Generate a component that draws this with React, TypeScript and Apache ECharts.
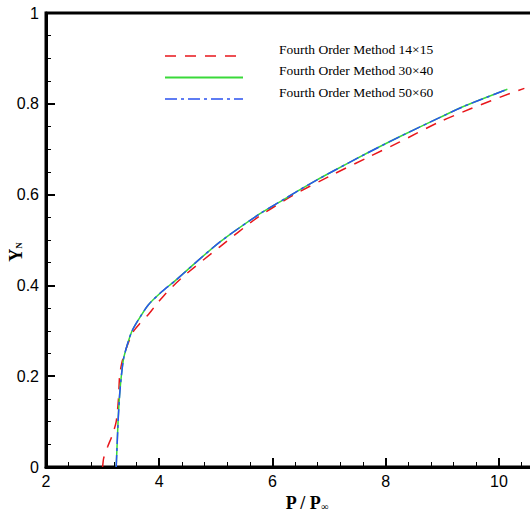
import React, { useEffect, useRef } from "react";
import * as echarts from "echarts";

// P / P_inf values and Y_N values
const red14x15P = [3.0, 3.02, 3.09, 3.17, 3.24, 3.28, 3.3, 3.34, 3.4, 3.53, 3.65, 3.8, 3.93, 4.1, 4.4, 5.07, 5.72, 6.37, 7.08, 7.67, 8.25, 8.93, 9.5, 10.2, 10.45];
const red14x15Y = [0, 0.02, 0.045, 0.07, 0.1, 0.15, 0.2, 0.23, 0.255, 0.296, 0.315, 0.335, 0.355, 0.38, 0.417, 0.485, 0.548, 0.599, 0.645, 0.681, 0.716, 0.759, 0.789, 0.823, 0.834];

const green30x40P = [3.24, 3.26, 3.277, 3.307, 3.366, 3.426, 3.514, 3.631, 3.807, 4.044, 4.279, 4.633, 5.074, 5.78, 6.25, 6.488, 6.78, 7.076, 7.666, 8.254, 8.961, 9.373, 10.15];
const green30x40Y = [0, 0.06, 0.111, 0.17, 0.236, 0.265, 0.298, 0.324, 0.357, 0.386, 0.41, 0.449, 0.496, 0.558, 0.593, 0.611, 0.632, 0.652, 0.691, 0.728, 0.77, 0.794, 0.832];

const blue50x60P = [3.24, 3.26, 3.278, 3.308, 3.366, 3.425, 3.514, 3.63, 3.806, 4.044, 4.28, 4.633, 5.074, 5.78, 6.25, 6.488, 6.78, 7.076, 7.666, 8.254, 8.961, 9.373, 10.15];
const blue50x60Y = [0, 0.06, 0.111, 0.17, 0.236, 0.265, 0.298, 0.324, 0.357, 0.386, 0.41, 0.449, 0.496, 0.558, 0.593, 0.611, 0.632, 0.652, 0.691, 0.728, 0.77, 0.794, 0.832];

const seriesNames = [
  "Fourth Order Method 14×15",
  "Fourth Order Method 30×40",
  "Fourth Order Method 50×60",
];
const seriesColors = ["#e8161b", "#3ad93a", "#2a52f0"];
const seriesDash: any[] = [[11, 9], "solid", [12, 4, 3, 4]];

const xTicks = [2, 4, 6, 8, 10];
const yTicks = [0, 0.2, 0.4, 0.6, 0.8, 1];

function zip(a: number[], b: number[]) {
  return a.map((v, i) => [v, b[i]]);
}

export default function App() {
  const ref = useRef<HTMLDivElement>(null);
  useEffect(() => {
    if (!ref.current) return;
    const chart = echarts.init(ref.current, null, { renderer: "svg" });
    const pairs = [
      zip(red14x15P, red14x15Y),
      zip(green30x40P, green30x40Y),
      zip(blue50x60P, blue50x60Y),
    ];
    const legendX0 = 165;
    const legendX1 = 243;
    const legendY = [56, 77.5, 99];
    const graphic: any[] = [];
    seriesNames.forEach((n, i) => {
      graphic.push({
        type: "line",
        shape: { x1: legendX0, y1: legendY[i], x2: legendX1, y2: legendY[i] },
        style: {
          stroke: seriesColors[i],
          lineWidth: i === 1 ? 2 : 1.5,
          lineDash: seriesDash[i] === "solid" ? null : seriesDash[i],
        },
      });
      graphic.push({
        type: "text",
        x: 279,
        y: legendY[i] - 7,
        style: {
          text: n,
          fill: "#000",
          font: '13.5px "Liberation Serif"',
          verticalAlign: "middle",
          align: "left",
        },
      });
    });
    graphic.push({
      type: "text",
      x: 16,
      y: 252,
      rotation: Math.PI / 2,
      style: {
        text: "{b|Y}{s|N}",
        align: "center",
        verticalAlign: "middle",
        rich: {
          b: { fontFamily: "Liberation Serif", fontWeight: "bold", fontSize: 18, fill: "#000" },
          s: { fontFamily: "Liberation Serif", fontWeight: "bold", fontSize: 9, fill: "#000", padding: [6, 0, 0, 0] },
        },
      },
    });
    chart.setOption({
      animation: false,
      backgroundColor: "#fff",
      grid: {
        left: 46,
        top: 13,
        width: 509.5,
        height: 454,
        containLabel: false,
        outerBoundsMode: "none",
        show: true,
        borderColor: "#000",
        borderWidth: 3,
      },
      xAxis: {
        type: "value",
        min: 2,
        max: 11,
        interval: 2,
        name: "{b|P / P}{s|∞}",
        nameLocation: "middle",
        nameGap: 23,
        nameTextStyle: {
          padding: [0, 0, 0, 12],
          rich: {
            b: { fontFamily: "Liberation Serif", fontWeight: "bold", fontSize: 18, color: "#000" },
            s: { fontFamily: "Liberation Serif", fontWeight: "bold", fontSize: 10, color: "#000", padding: [8, 0, 0, 0] },
          },
        },
        axisLine: { show: true, lineStyle: { color: "#000", width: 3 } },
        axisTick: { show: true, inside: true, length: 9, lineStyle: { color: "#000", width: 2 } },
        minorTick: { show: true, splitNumber: 5, length: 5, lineStyle: { color: "#000", width: 1 } },
        splitLine: { show: false },
        axisLabel: {
          margin: 6,
          color: "#000",
          fontFamily: "Liberation Sans",
          fontSize: 16,
          formatter: (v: number) => (xTicks.indexOf(v) >= 0 ? String(v) : ""),
        },
      },
      yAxis: {
        type: "value",
        min: 0,
        max: 1,
        interval: 0.2,
        axisLine: { show: true, lineStyle: { color: "#000", width: 3 } },
        axisTick: { show: true, inside: true, length: 9, lineStyle: { color: "#000", width: 2 } },
        minorTick: { show: true, splitNumber: 4, length: 5, lineStyle: { color: "#000", width: 1 } },
        splitLine: { show: false },
        axisLabel: {
          margin: 7,
          color: "#000",
          fontFamily: "Liberation Sans",
          fontSize: 16,
          formatter: (v: number) => {
            const hit = yTicks.find((t) => Math.abs(t - v) < 1e-9);
            return hit === undefined ? "" : String(hit);
          },
        },
      },
      series: pairs.map((d, i) => ({
        type: "line",
        name: seriesNames[i],
        data: d,
        showSymbol: false,
        smooth: 0.25,
        z: 2 + i,
        lineStyle: {
          color: seriesColors[i],
          width: 1.5,
          type: seriesDash[i],
        },
      })),
      graphic,
    });
    return () => chart.dispose();
  }, []);
  return (
    <div
      style={{
        position: "fixed",
        left: 0,
        top: 0,
        width: 530,
        height: 512,
        overflow: "hidden",
        background: "#fff",
      }}
    >
      <div ref={ref} style={{ width: 620, height: 512 }} />
    </div>
  );
}
